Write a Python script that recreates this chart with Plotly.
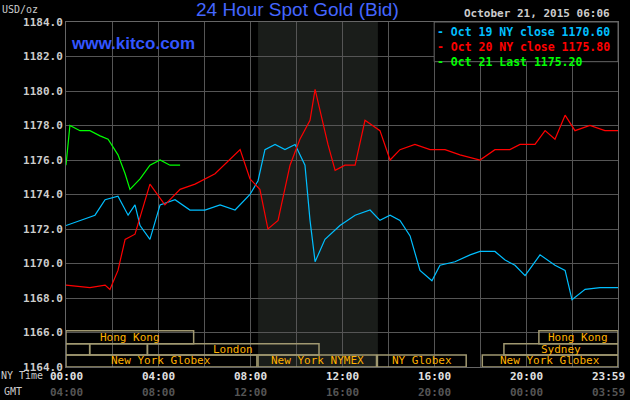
import plotly.graph_objects as go

# hours since 00:00 NY time, price in USD/oz
oct19_hours = [0, 0.61, 1.26, 1.7, 2.26, 2.7, 3.0, 3.22, 3.65, 4.09, 4.74, 5.39, 6.04, 6.7, 7.35, 8.0,
               8.35, 8.65, 9.09, 9.52, 9.96, 10.39, 10.61, 10.83, 11.26, 11.91, 12.57, 13.22, 13.65,
               14.09, 14.52, 14.96, 15.39, 15.91, 16.26, 16.91, 17.57, 18.0, 18.65, 19.09, 19.52,
               19.96, 20.61, 21.26, 21.7, 22.0, 22.57, 23.22, 24]
oct19_price = [1172.2, 1172.5, 1172.8, 1173.7, 1173.9, 1172.8, 1173.4, 1172.2, 1171.4, 1173.4, 1173.7,
               1173.1, 1173.1, 1173.4, 1173.1, 1174.0, 1174.8, 1176.6, 1176.9, 1176.6, 1176.9, 1175.7,
               1172.5, 1170.1, 1171.4, 1172.2, 1172.8, 1173.1, 1172.5, 1172.8, 1172.5, 1171.6, 1169.6,
               1169.0, 1169.9, 1170.1, 1170.5, 1170.7, 1170.7, 1170.2, 1169.9, 1169.3, 1170.5, 1169.9,
               1169.6, 1167.9, 1168.5, 1168.6, 1168.6]

oct20_hours = [0, 1.04, 1.7, 1.91, 2.26, 2.57, 3.0, 3.65, 4.3, 4.96, 5.61, 6.48, 7.57, 8.0, 8.43, 8.78,
               9.22, 9.74, 10.17, 10.61, 10.83, 11.13, 11.39, 11.7, 12.13, 12.57, 13.0, 13.65, 14.09,
               14.52, 15.17, 15.83, 16.48, 17.13, 18.0, 18.65, 19.3, 19.74, 20.39, 20.83, 21.26, 21.7,
               22.13, 22.78, 23.43, 24]
oct20_price = [1168.75, 1168.6, 1168.75, 1168.5, 1169.6, 1171.4, 1171.7, 1174.6, 1173.4, 1174.3, 1174.6,
               1175.2, 1176.6, 1174.9, 1174.3, 1172.0, 1172.5, 1175.7, 1177.2, 1178.3, 1180.1, 1178.3,
               1176.9, 1175.4, 1175.7, 1175.7, 1178.3, 1177.7, 1176.0, 1176.6, 1176.9, 1176.6, 1176.6,
               1176.3, 1176.0, 1176.6, 1176.6, 1176.9, 1176.9, 1177.7, 1177.2, 1178.6, 1177.7, 1178.0,
               1177.7, 1177.7]

oct21_hours = [0, 0.17, 0.61, 1.04, 1.48, 1.83, 2.26, 2.57, 2.78, 3.22, 3.65, 4.09, 4.52, 4.96]
oct21_price = [1175.7, 1178.0, 1177.7, 1177.7, 1177.4, 1177.2, 1176.3, 1175.2, 1174.3, 1174.9, 1175.7,
               1176.0, 1175.7, 1175.7]

ny_ticks = ["00:00", "04:00", "08:00", "12:00", "16:00", "20:00", "23:59"]
gmt_ticks = ["04:00", "08:00", "12:00", "16:00", "20:00", "00:00", "03:59"]
y_ticks = [1164, 1166, 1168, 1170, 1172, 1174, 1176, 1178, 1180, 1182, 1184]
legend_labels = ["Oct 19 NY close 1170.60", "Oct 20 NY close 1175.80", "Oct 21 Last 1175.20"]

# trading sessions: (name, start hour, end hour, row)
sessions = [
    ("Hong Kong", 0, 5.55, 0), ("Hong Kong", 20.56, 24, 0),
    ("", 0, 1.03, 1), ("", 1.03, 3.54, 1), ("London", 3.54, 11.0, 1), ("Sydney", 19.04, 24, 1),
    ("New York Globex", 0, 8.3, 2), ("New York NYMEX", 8.35, 13.5, 2),
    ("NY Globex", 13.54, 17.4, 2), ("New York Globex", 18.1, 24, 2),
]
row_bounds = [(1165.35, 1166.1), (1164.7, 1165.35), (1164.0, 1164.7)]
colors = ["#00bfff", "#ff0000", "#00ff00"]

mono = "DejaVu Sans Mono"
fig = go.Figure()
for name, xs, ys, col in zip(legend_labels, [oct19_hours, oct20_hours, oct21_hours],
                             [oct19_price, oct20_price, oct21_price], colors):
    fig.add_trace(go.Scatter(x=xs, y=ys, mode="lines", name=name, line=dict(color=col, width=1.2)))

shapes = [dict(type="rect", xref="x", yref="paper", x0=8.35, x1=13.56, y0=0, y1=1,
               fillcolor="#1a1d1a", line_width=0, layer="below"),
          dict(type="rect", xref="paper", yref="paper", x0=0.667, x1=1.0, y0=0.885, y1=1.0,
               fillcolor="#000000", line=dict(color="#666666", width=1))]
annotations = []
for name, s, e, row in sessions:
    y0, y1 = row_bounds[row]
    shapes.append(dict(type="rect", x0=s, x1=e, y0=y0, y1=y1, line=dict(color="#a09870", width=1.5)))
    if name:
        annotations.append(dict(x=(s + e) / 2, y=(y0 + y1) / 2, text=name, showarrow=False,
                                font=dict(family=mono, size=11, color="#ffb000")))

for i, (n, g) in enumerate(zip(ny_ticks, gmt_ticks)):
    h = min(i * 4, 24)
    last = h == 24
    for txt, yy, col in [(n, -0.003, "#e0e0e0"), (g, -0.048, "#555555")]:
        annotations.append(dict(x=h, y=yy, yref="paper", yanchor="top", text=f"<b>{txt}</b>",
                                showarrow=False, xanchor="right" if last else "center",
                                xshift=9 if last else 0,
                                font=dict(family=mono, size=11, color=col)))

legend_text = "<br>".join(f"<span style='color:{c}'><b>- {t}</b></span>" for c, t in zip(colors, legend_labels))
annotations += [
    dict(x=0.669, y=0.998, xref="paper", yref="paper", xanchor="left", yanchor="top", align="left",
         text=legend_text, showarrow=False, font=dict(family=mono, size=11.5)),
    dict(x=0, y=-0.003, xref="paper", yref="paper", xanchor="right", yanchor="top", xshift=-21,
         text="NY Time", showarrow=False, font=dict(family=mono, size=10, color="#cccccc")),
    dict(x=0, y=-0.048, xref="paper", yref="paper", xanchor="right", yanchor="top", xshift=-42,
         text="GMT", showarrow=False, font=dict(family=mono, size=10, color="#cccccc")),
    dict(x=0, y=1.0, xref="paper", yref="paper", xanchor="left", yanchor="bottom", xshift=-66, yshift=5,
         text="USD/oz", showarrow=False, font=dict(family=mono, size=10, color="#cccccc")),
    dict(x=0.005, y=0.97, xref="paper", yref="paper", xanchor="left", yanchor="top",
         text="<b>www.kitco.com</b>", showarrow=False,
         font=dict(family="Liberation Sans", size=17, color="#3355ff")),
    dict(x=0.42, y=1.0, xref="paper", yref="paper", xanchor="center", yanchor="bottom",
         text="24 Hour Spot Gold (Bid)", showarrow=False,
         font=dict(family="Liberation Sans", size=19, color="#4466ff")),
    dict(x=1.0, y=1.0, xref="paper", yref="paper", xanchor="right", yanchor="bottom", xshift=-6,
         text="<b>October 21, 2015 06:06</b>", showarrow=False,
         font=dict(family=mono, size=11, color="#cccccc")),
]

fig.update_layout(
    width=630, height=400, paper_bgcolor="#000000", plot_bgcolor="#000000",
    margin=dict(l=66, r=12, t=22, b=33),
    shapes=shapes, annotations=annotations, showlegend=False,
)
fig.update_xaxes(range=[0, 24], tickvals=list(range(0, 25, 2)), showticklabels=False,
                 showgrid=True, gridcolor="#555555", zeroline=False, automargin=False,
                 showline=True, linecolor="#666666", mirror=True)
fig.update_yaxes(range=[1164, 1184], tickvals=y_ticks, ticktext=[f"<b>{v:.1f}</b>" for v in y_ticks],
                 tickfont=dict(family=mono, size=11, color="#cccccc"), automargin=False,
                 showgrid=True, gridcolor="#555555", zeroline=False,
                 showline=True, linecolor="#666666", mirror=True)

fig.write_html("out.html", config={"displayModeBar": False},
               post_script="document.body.style.margin='0';document.body.style.background='#000';")
